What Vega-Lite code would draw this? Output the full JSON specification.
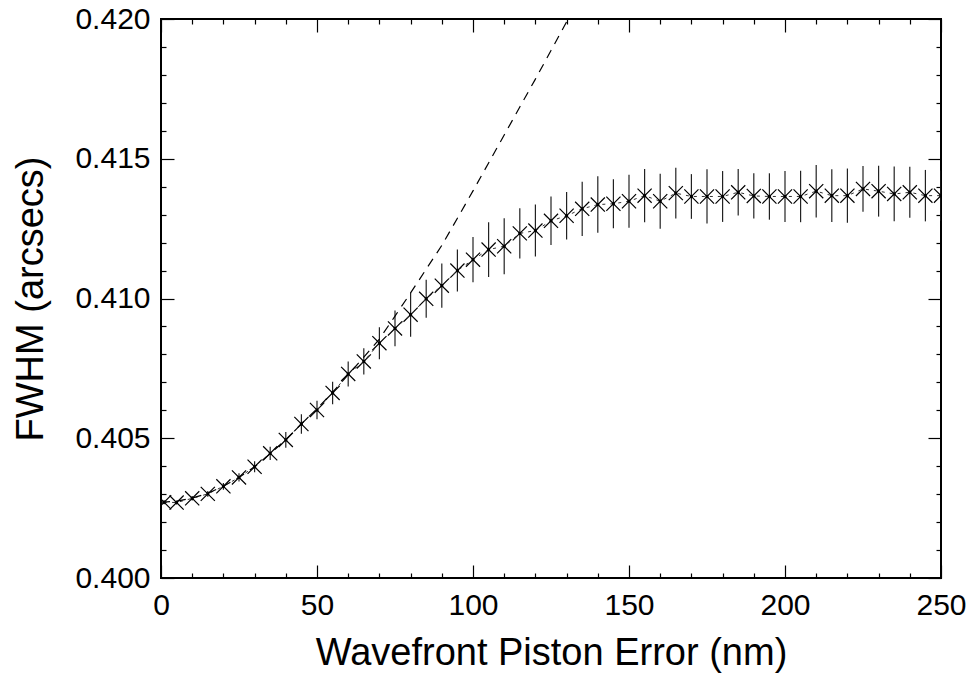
{
  "$schema": "https://vega.github.io/schema/vega-lite/v6.json",
  "width": 780,
  "height": 559,
  "autosize": {"type": "none"},
  "padding": {"left": 161, "top": 19, "right": 25, "bottom": 97},
  "background": "white",
  "config": {
    "view": {"stroke": "black", "strokeWidth": 2},
    "axis": {
      "domain": false,
      "grid": false,
      "labelFont": "Liberation Sans",
      "titleFont": "Liberation Sans",
      "labelColor": "black",
      "titleColor": "black",
      "tickColor": "black",
      "tickWidth": 1.2,
      "titleFontWeight": "normal"
    }
  },
  "datasets": {
    "obs": [
      {"x": 1, "y": 0.40271, "err": 0.00007},
      {"x": 5, "y": 0.40270, "err": 0.00007},
      {"x": 10, "y": 0.40285, "err": 0.00008},
      {"x": 15, "y": 0.40301, "err": 0.0001},
      {"x": 20, "y": 0.40328, "err": 0.00012},
      {"x": 25, "y": 0.40360, "err": 0.00015},
      {"x": 30, "y": 0.40398, "err": 0.0002},
      {"x": 35, "y": 0.40446, "err": 0.00024},
      {"x": 40, "y": 0.40494, "err": 0.00028},
      {"x": 45, "y": 0.40551, "err": 0.00035},
      {"x": 50, "y": 0.40601, "err": 0.00033},
      {"x": 55, "y": 0.40662, "err": 0.0004},
      {"x": 60, "y": 0.40730, "err": 0.00045},
      {"x": 65, "y": 0.40775, "err": 0.00047},
      {"x": 70, "y": 0.40840, "err": 0.00057},
      {"x": 75, "y": 0.40893, "err": 0.00064},
      {"x": 80, "y": 0.40942, "err": 0.00079},
      {"x": 85, "y": 0.40999, "err": 0.00068},
      {"x": 90, "y": 0.41046, "err": 0.00079},
      {"x": 95, "y": 0.41100, "err": 0.00075},
      {"x": 100, "y": 0.41139, "err": 0.00081},
      {"x": 105, "y": 0.41175, "err": 0.00098},
      {"x": 110, "y": 0.41187, "err": 0.001},
      {"x": 115, "y": 0.41233, "err": 0.0009},
      {"x": 120, "y": 0.41243, "err": 0.00093},
      {"x": 125, "y": 0.41278, "err": 0.00087},
      {"x": 130, "y": 0.41296, "err": 0.00085},
      {"x": 135, "y": 0.41321, "err": 0.00097},
      {"x": 140, "y": 0.41336, "err": 0.00101},
      {"x": 145, "y": 0.41339, "err": 0.00088},
      {"x": 150, "y": 0.41348, "err": 0.00095},
      {"x": 155, "y": 0.41368, "err": 0.00095},
      {"x": 160, "y": 0.41348, "err": 0.00098},
      {"x": 165, "y": 0.41377, "err": 0.00091},
      {"x": 170, "y": 0.41365, "err": 0.0008},
      {"x": 175, "y": 0.41365, "err": 0.00097},
      {"x": 180, "y": 0.41365, "err": 0.00091},
      {"x": 185, "y": 0.41380, "err": 0.00083},
      {"x": 190, "y": 0.41367, "err": 0.00081},
      {"x": 195, "y": 0.41365, "err": 0.00083},
      {"x": 200, "y": 0.41365, "err": 0.00091},
      {"x": 205, "y": 0.41365, "err": 0.00092},
      {"x": 210, "y": 0.41384, "err": 0.00094},
      {"x": 215, "y": 0.41368, "err": 0.00094},
      {"x": 220, "y": 0.41368, "err": 0.00097},
      {"x": 225, "y": 0.41392, "err": 0.00082},
      {"x": 230, "y": 0.41384, "err": 0.00091},
      {"x": 235, "y": 0.41374, "err": 0.00098},
      {"x": 240, "y": 0.41380, "err": 0.00091},
      {"x": 245, "y": 0.41368, "err": 0.00092},
      {"x": 250, "y": 0.41368, "err": 0.0009}
    ],
    "model": [
      {"x": 0, "t": 0.40271},
      {"x": 5, "t": 0.40275},
      {"x": 10, "t": 0.40286},
      {"x": 15, "t": 0.40303},
      {"x": 20, "t": 0.40328},
      {"x": 25, "t": 0.40360},
      {"x": 30, "t": 0.40398},
      {"x": 35, "t": 0.40445},
      {"x": 40, "t": 0.40495},
      {"x": 45, "t": 0.40552},
      {"x": 50, "t": 0.40605},
      {"x": 55, "t": 0.40665},
      {"x": 60, "t": 0.40727},
      {"x": 65, "t": 0.40790},
      {"x": 70, "t": 0.40855},
      {"x": 75, "t": 0.40937},
      {"x": 80, "t": 0.41020},
      {"x": 85, "t": 0.41105},
      {"x": 90, "t": 0.41190},
      {"x": 95, "t": 0.41287},
      {"x": 100, "t": 0.41385},
      {"x": 105, "t": 0.41485},
      {"x": 110, "t": 0.41585},
      {"x": 115, "t": 0.41685},
      {"x": 120, "t": 0.41785},
      {"x": 125, "t": 0.41887},
      {"x": 130, "t": 0.41990},
      {"x": 132, "t": 0.42030}
    ]
  },
  "layer": [
    {
      "data": {"name": "obs"},
      "mark": {"type": "errorbar", "color": "#222222", "thickness": 1.2, "clip": true},
      "encoding": {
        "x": {
          "field": "x", "type": "quantitative",
          "scale": {"domain": [0, 250], "nice": false, "zero": false},
          "axis": {
            "orient": "bottom",
            "values": [0, 50, 100, 150, 200, 250],
            "tickSize": -13,
            "labelFontSize": 30,
            "labelPadding": 25,
            "labelFlush": false,
            "format": "d",
            "title": "Wavefront Piston Error (nm)",
            "titleFontSize": 38,
            "titlePadding": 14
          }
        },
        "y": {
          "field": "y", "type": "quantitative",
          "scale": {"domain": [0.4, 0.42], "nice": false, "zero": false},
          "axis": {
            "orient": "left",
            "values": [0.400, 0.405, 0.410, 0.415, 0.420],
            "tickSize": -13,
            "labelFontSize": 30,
            "labelPadding": 24,
            "labelFlush": false,
            "format": ".3f",
            "title": "FWHM (arcsecs)",
            "titleFontSize": 38,
            "titlePadding": 24
          }
        },
        "yError": {"field": "err"}
      }
    },
    {
      "data": {"name": "obs"},
      "mark": {"type": "point", "shape": "M-1,-1L1,1M-1,1L1,-1", "filled": false, "stroke": "black", "strokeWidth": 1.2, "size": 200, "opacity": 1, "clip": true},
      "encoding": {
        "x": {
          "field": "x", "type": "quantitative",
          "scale": {"domain": [0, 250], "nice": false, "zero": false},
          "axis": {
            "orient": "bottom",
            "values": [10, 20, 30, 40, 60, 70, 80, 90, 110, 120, 130, 140, 160, 170, 180, 190, 210, 220, 230, 240],
            "tickSize": -5,
            "labels": false,
            "title": null
          }
        },
        "y": {
          "field": "y", "type": "quantitative",
          "scale": {"domain": [0.4, 0.42], "nice": false, "zero": false},
          "axis": {
            "orient": "left",
            "values": [0.401, 0.402, 0.403, 0.404, 0.406, 0.407, 0.408, 0.409, 0.411, 0.412, 0.413, 0.414, 0.416, 0.417, 0.418, 0.419],
            "tickSize": -5,
            "labels": false,
            "title": null
          }
        }
      }
    },
    {
      "data": {"name": "obs"},
      "mark": {"type": "line", "color": "#333333", "strokeWidth": 1, "strokeDash": [3, 5], "clip": true},
      "encoding": {
        "x": {
          "field": "x", "type": "quantitative",
          "scale": {"domain": [0, 250], "nice": false, "zero": false},
          "axis": {
            "orient": "top",
            "values": [0, 50, 100, 150, 200, 250],
            "tickSize": -13,
            "labels": false,
            "title": null
          }
        },
        "y": {
          "field": "y", "type": "quantitative",
          "scale": {"domain": [0.4, 0.42], "nice": false, "zero": false},
          "axis": {
            "orient": "right",
            "values": [0.400, 0.405, 0.410, 0.415, 0.420],
            "tickSize": -13,
            "labels": false,
            "title": null
          }
        }
      }
    },
    {
      "data": {"name": "model"},
      "mark": {"type": "line", "color": "black", "strokeWidth": 1.2, "strokeDash": [9, 7], "clip": true},
      "encoding": {
        "x": {
          "field": "x", "type": "quantitative",
          "scale": {"domain": [0, 250], "nice": false, "zero": false},
          "axis": {
            "orient": "top",
            "values": [10, 20, 30, 40, 60, 70, 80, 90, 110, 120, 130, 140, 160, 170, 180, 190, 210, 220, 230, 240],
            "tickSize": -5,
            "labels": false,
            "title": null
          }
        },
        "y": {
          "field": "t", "type": "quantitative",
          "scale": {"domain": [0.4, 0.42], "nice": false, "zero": false},
          "axis": {
            "orient": "right",
            "values": [0.401, 0.402, 0.403, 0.404, 0.406, 0.407, 0.408, 0.409, 0.411, 0.412, 0.413, 0.414, 0.416, 0.417, 0.418, 0.419],
            "tickSize": -5,
            "labels": false,
            "title": null
          }
        }
      }
    },
    {
      "data": {"name": "obs"},
      "mark": {"type": "point", "shape": "square", "filled": true, "color": "black", "size": 9, "opacity": 1, "clip": true},
      "encoding": {
        "x": {"field": "x", "type": "quantitative", "scale": {"domain": [0, 250], "nice": false, "zero": false}, "axis": null},
        "y": {"field": "y", "type": "quantitative", "scale": {"domain": [0.4, 0.42], "nice": false, "zero": false}, "axis": null}
      }
    }
  ],
  "resolve": {
    "scale": {"x": "shared", "y": "shared"},
    "axis": {"x": "independent", "y": "independent"}
  }
}
